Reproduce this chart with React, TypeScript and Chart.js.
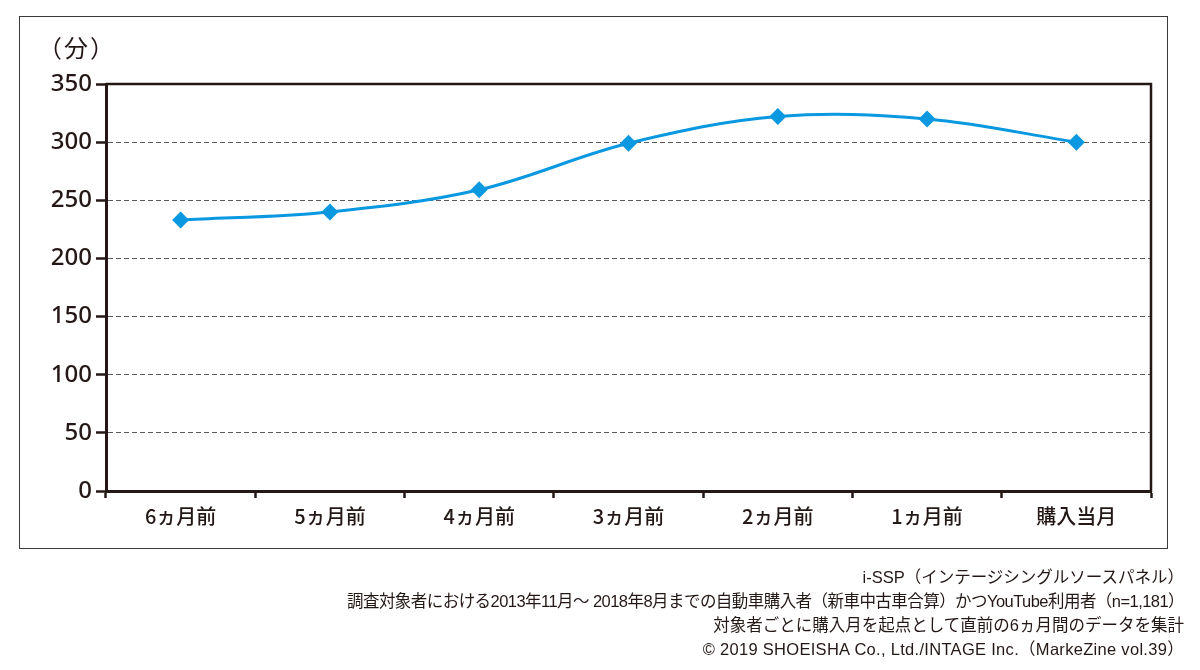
import React, { useEffect, useRef } from "react";
import { Chart, registerables } from "chart.js";

Chart.register(...registerables);

// ---- data ----
const categories = ["6ヵ月前", "5ヵ月前", "4ヵ月前", "3ヵ月前", "2ヵ月前", "1ヵ月前", "購入当月"];
const minutes = [233, 240, 259, 299, 322, 320, 300];
const yTickValues = [0, 50, 100, 150, 200, 250, 300, 350];
const unitLabel = "（分）";
const notes = [
  "i-SSP（インテージシングルソースパネル）",
  "調査対象者における2013年11月～ 2018年8月までの自動車購入者（新車中古車合算）かつYouTube利用者（n=1,181）",
  "対象者ごとに購入月を起点として直前の6ヵ月間のデータを集計",
  "© 2019 SHOEISHA Co., Ltd./INTAGE Inc.（MarkeZine vol.39）",
];
const noteSpacing = [0, -0.55, 0, 0.3];

const BLUE = "#0a98e0";
const INK = "#231815";
const GRID = "#5a5a5a";
const W = 1200;
const H = 670;

const framePlugin = {
  id: "frame",
  afterDraw(chart: any) {
    const { ctx, chartArea } = chart;
    ctx.save();
    ctx.strokeStyle = INK;
    ctx.lineWidth = 2.5;
    ctx.setLineDash([]);
    ctx.beginPath();
    ctx.moveTo(chartArea.left, chartArea.top);
    ctx.lineTo(chartArea.right, chartArea.top);
    ctx.lineTo(chartArea.right, chartArea.bottom + 1);
    ctx.stroke();
    ctx.restore();
  },
};

export default function App() {
  const ref = useRef<HTMLCanvasElement | null>(null);

  useEffect(() => {
    if (!ref.current) return;
    const chart = new Chart(ref.current, {
      type: "line",
      data: {
        labels: categories,
        datasets: [
          {
            data: minutes,
            borderColor: BLUE,
            borderWidth: 3,
            tension: 0.35,
            pointStyle: "rectRot",
            pointRadius: 8.5,
            pointHoverRadius: 8.5,
            pointBackgroundColor: BLUE,
            pointBorderColor: BLUE,
            pointBorderWidth: 0,
            fill: false,
          },
        ],
      },
      options: {
        animation: false,
        responsive: false,
        maintainAspectRatio: false,
        events: [],
        layout: { padding: { left: 0, top: 84, right: W - 1151, bottom: 0 } },
        plugins: {
          legend: { display: false },
          tooltip: { enabled: false },
          title: { display: false },
        },
        scales: {
          x: {
            type: "category",
            offset: true,
            grid: {
              offset: true,
              drawOnChartArea: false,
              drawTicks: true,
              tickLength: 7,
              tickColor: INK,
              tickWidth: 2.5,
            },
            border: { color: INK, width: 3 },
            ticks: {
              color: INK,
              font: { size: 20, weight: 500, family: "'Noto Sans CJK JP', 'Noto Sans', sans-serif" },
              padding: 6,
              maxRotation: 0,
              autoSkip: false,
            },
            afterFit: (s: any) => {
              s.height = H - 491;
            },
          },
          y: {
            min: 0,
            max: 350,
            afterBuildTicks: (s: any) => {
              s.ticks = yTickValues.map((v) => ({ value: v }));
            },
            grid: {
              color: (c: any) =>
                c.tick && (c.tick.value === 0 || c.tick.value === 350) ? "rgba(0,0,0,0)" : GRID,
              lineWidth: 1,
              drawTicks: true,
              tickLength: 10,
              tickColor: INK,
              tickWidth: 2.5,
              tickBorderDash: [],
            },
            border: { color: INK, width: 3, dash: [5, 3] },
            ticks: {
              color: INK,
              font: { size: 24, weight: 500, family: "'Noto Sans', sans-serif" },
              padding: 4,
            },
            afterFit: (s: any) => {
              s.width = 106;
            },
          },
        },
      },
      plugins: [framePlugin],
    });
    return () => chart.destroy();
  }, []);

  return (
    <div style={{ position: "absolute", left: 0, top: 0, width: W, height: H, background: "#fff", overflow: "hidden" }}>
      <div
        style={{
          position: "absolute",
          left: 19,
          top: 16,
          width: 1149,
          height: 533,
          border: "1.5px solid #3a3a3a",
          boxSizing: "border-box",
        }}
      />
      <canvas
        ref={ref}
        width={W}
        height={H}
        style={{ position: "absolute", left: 0, top: 0, width: W, height: H, display: "block" }}
      />
      <div
        style={{
          position: "absolute",
          left: 38,
          top: 32,
          fontSize: 24,
          lineHeight: "30px",
          letterSpacing: "2px",
          color: INK,
          fontFamily: "'Noto Sans CJK JP', sans-serif",
          whiteSpace: "nowrap",
        }}
      >
        {unitLabel}
      </div>
      <div
        style={{
          position: "absolute",
          right: W - 1184,
          top: 565,
          textAlign: "right",
          fontSize: 16.5,
          lineHeight: "24px",
          color: INK,
          fontFamily: "'Liberation Sans', 'Noto Sans CJK JP', sans-serif",
          whiteSpace: "nowrap",
        }}
      >
        {notes.map((n, i) => (
          <div key={n} style={{ letterSpacing: `${noteSpacing[i]}px` }}>
            {n}
          </div>
        ))}
      </div>
    </div>
  );
}
